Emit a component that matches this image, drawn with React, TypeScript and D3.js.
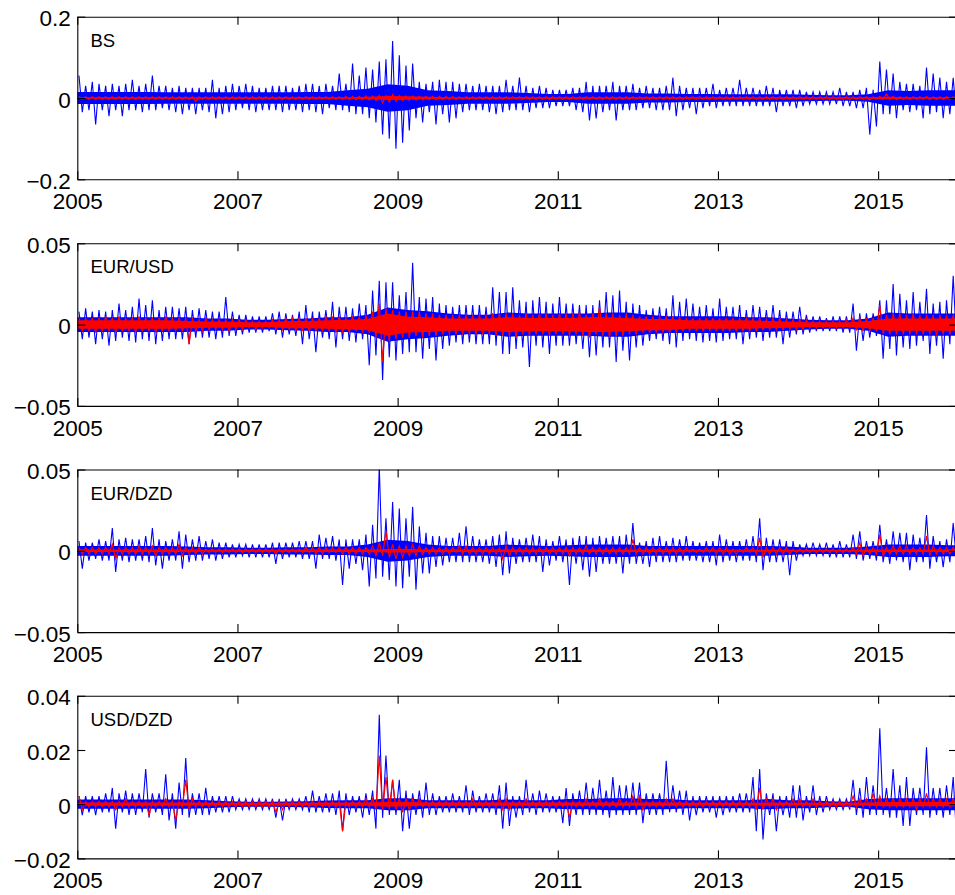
import React, { useEffect, useRef } from 'react';
import * as d3 from 'd3';

// Monthly extremes, one value per month, Jan 2005 .. Dec 2015.
// BS values are in units of 0.01, the three exchange rates in units of 0.001.

const bsBlueHi = [
  5.5, 3, 4, 3.5, 3, 3.5, 3, 3.5, 4.5, 3, 3.5, 5.5,
  3, 3, 2.5, 3, 2.5, 2.5, 2.5, 2.5, 4.5, 2.5, 3, 3.5,
  3, 3.5, 3, 2.5, 2.5, 3, 3, 3, 2.5, 3, 3.5, 3.5,
  3, 3.5, 3, 6, 3.5, 8.5, 5.5, 7.5, 7, 9, 9.5, 14,
  10.5, 8, 8.5, 4, 3.5, 4, 4.5, 4, 4, 3.5, 3.5, 3,
  3.5, 3, 3, 3, 4.5, 3, 5, 3, 2.5, 3, 2.5, 2,
  2, 2, 2.5, 2.5, 4, 3, 3, 3, 4, 3, 3, 3.5,
  2.5, 3, 2.5, 2.5, 3, 5, 3, 2.5, 2.5, 2.5, 2.5, 3.5,
  2, 2.5, 2.5, 4.5, 2.5, 2.5, 2, 3, 2.5, 2, 2, 2,
  2, 1.5, 1.5, 1.5, 1.5, 1.5, 2.5, 1.5, 1.5, 2, 2.5, 2,
  9, 7, 6, 4, 3.5, 3.5, 3, 7.5, 6, 5, 4, 5
];
const bsBlueLo = [
  -3.5, -3, -6.5, -3, -4.5, -3, -4.5, -3, -3, -3.5, -3, -3,
  -2.5, -3, -3.5, -4, -3, -4, -3, -3.5, -5, -4, -3.5, -3,
  -2.5, -3, -3.5, -3, -3, -3, -3.5, -3, -3, -3.5, -3, -3.5,
  -4, -2.5, -3, -3, -3.5, -4, -4, -5, -6, -9, -10, -12.5,
  -11, -8, -5, -6, -3.5, -6.5, -4, -6, -5, -3.5, -3, -3,
  -3, -3.5, -4, -3.5, -3, -3, -3, -3.5, -2.5, -2.5, -2.5, -2,
  -2, -2, -3, -3.5, -5.5, -5, -3.5, -3, -5.5, -3, -3, -3,
  -2.5, -2.5, -3, -3, -3, -4.5, -3, -2.5, -4, -2.5, -2, -2.5,
  -2, -2, -2, -2, -2, -2, -2, -2, -3.5, -2, -2, -2.5,
  -2, -1.5, -1.5, -1.5, -1.5, -1.5, -2, -2, -2.5, -2.5, -9, -7,
  -4, -4, -5, -3, -3.5, -3, -5, -4, -3.5, -5, -4, -5
];
const bsRedHi = [
  0.4, 0.3, 0.3, 0.3, 0.3, 0.3, 0.3, 0.3, 0.3, 0.3, 0.3, 0.3,
  0.3, 0.3, 0.3, 0.3, 0.3, 0.3, 0.3, 0.3, 0.3, 0.3, 0.3, 0.3,
  0.3, 0.3, 0.3, 0.3, 0.3, 0.3, 0.3, 0.3, 0.3, 0.3, 0.3, 0.3,
  0.3, 0.3, 0.3, 0.3, 0.4, 0.4, 0.4, 0.5, 0.5, 0.6, 0.6, 0.8,
  0.6, 0.5, 0.5, 0.4, 0.4, 0.4, 0.4, 0.4, 0.4, 0.3, 0.3, 0.3,
  0.3, 0.3, 0.3, 0.3, 0.3, 0.3, 0.3, 0.3, 0.3, 0.3, 0.3, 0.3,
  0.3, 0.3, 0.3, 0.3, 0.3, 0.3, 0.3, 0.3, 0.3, 0.3, 0.3, 0.3,
  0.3, 0.3, 0.3, 0.3, 0.3, 0.3, 0.3, 0.3, 0.3, 0.3, 0.3, 0.3,
  0.3, 0.3, 0.3, 0.3, 0.3, 0.3, 0.3, 0.3, 0.3, 0.3, 0.3, 0.3,
  0.3, 0.3, 0.3, 0.3, 0.3, 0.3, 0.3, 0.3, 0.3, 0.3, 0.3, 0.3,
  0.4, 1.0, 0.4, 0.3, 0.3, 0.3, 0.3, 0.4, 0.3, 0.3, 0.3, 0.3
];
const bsRedLo = [
  -0.3, -0.3, -0.3, -0.3, -0.3, -0.3, -0.3, -0.3, -0.3, -0.3, -0.3, -0.3,
  -0.3, -0.3, -0.3, -0.3, -0.3, -0.8, -0.3, -0.3, -0.3, -0.3, -0.3, -0.3,
  -0.3, -0.3, -0.3, -0.3, -0.3, -0.3, -0.3, -0.3, -0.3, -0.3, -0.3, -0.3,
  -0.3, -0.3, -0.3, -0.3, -0.4, -0.4, -0.4, -0.5, -0.6, -1.2, -1.0, -0.8,
  -0.6, -0.5, -0.5, -0.4, -0.4, -0.4, -0.4, -0.4, -0.4, -0.3, -0.3, -0.3,
  -0.3, -0.3, -0.3, -0.3, -0.3, -0.3, -0.3, -0.3, -0.3, -0.3, -0.3, -0.3,
  -0.3, -0.3, -0.3, -0.3, -0.3, -0.3, -0.3, -0.3, -0.3, -0.3, -0.3, -0.3,
  -0.3, -0.3, -0.3, -0.3, -0.3, -0.3, -0.3, -0.3, -0.3, -0.3, -0.3, -0.3,
  -0.3, -0.3, -0.3, -0.3, -0.3, -0.3, -0.3, -0.3, -0.3, -0.3, -0.3, -0.3,
  -0.3, -0.3, -0.3, -0.3, -0.3, -0.3, -0.3, -0.3, -0.3, -0.3, -0.5, -0.3,
  -0.4, -0.4, -0.4, -0.3, -0.3, -0.3, -0.3, -0.4, -0.3, -0.3, -0.3, -0.3
];

const eurUsdBlueHi = [
  8, 10, 8, 9, 8, 9, 13, 9, 11, 16, 12, 15,
  9, 11, 11, 10, 11, 9, 10, 9, 8, 8, 17, 8,
  6, 6, 5, 5, 5, 7, 8, 7, 6, 8, 12, 8,
  8, 9, 14, 11, 11, 10, 13, 12, 21, 27, 26, 26,
  18, 20, 38, 17, 16, 17, 13, 12, 11, 12, 12, 12,
  12, 11, 23, 20, 20, 23, 15, 14, 15, 17, 14, 13,
  17, 13, 13, 12, 12, 12, 15, 20, 18, 21, 14, 13,
  12, 9, 10, 11, 10, 18, 14, 16, 13, 11, 12, 10,
  16, 11, 11, 12, 9, 12, 11, 9, 12, 9, 8, 8,
  11, 6, 5, 5, 4, 5, 5, 5, 13, 7, 7, 7,
  15, 15, 25, 19, 15, 20, 14, 22, 13, 14, 15, 30
];
const eurUsdBlueLo = [
  -9, -8, -12, -9, -13, -10, -8, -10, -11, -9, -10, -12,
  -10, -9, -9, -9, -12, -8, -8, -8, -9, -8, -7, -7,
  -6, -5, -5, -5, -4, -6, -8, -6, -7, -12, -9, -17,
  -8, -9, -14, -9, -10, -11, -9, -25, -19, -34, -20, -22,
  -18, -17, -17, -21, -15, -22, -15, -13, -11, -12, -11, -12,
  -12, -12, -13, -18, -18, -15, -14, -26, -13, -14, -18, -13,
  -13, -13, -12, -15, -20, -19, -14, -14, -23, -16, -22, -14,
  -13, -10, -9, -10, -12, -14, -10, -9, -10, -11, -10, -11,
  -10, -9, -9, -12, -9, -8, -10, -8, -8, -12, -8, -6,
  -6, -5, -4, -4, -4, -4, -5, -5, -16, -10, -8, -7,
  -21, -15, -19, -14, -15, -13, -10, -18, -13, -21, -12, -12
];
const eurUsdRedHi = [
  4, 4, 4, 4, 5, 4, 5, 4, 4, 5, 4, 4,
  4, 5, 4, 4, 4, 4, 3, 4, 3, 3, 3, 3,
  3, 3, 2, 2, 2, 3, 3, 4, 4, 4, 4, 4,
  4, 5, 5, 5, 4, 5, 5, 6, 8, 13, 10, 9,
  8, 8, 8, 8, 7, 7, 6, 6, 6, 6, 6, 6,
  6, 6, 7, 7, 7, 7, 6, 7, 6, 7, 7, 6,
  7, 7, 7, 8, 6, 7, 11, 7, 7, 6, 7, 6,
  5, 5, 5, 5, 5, 5, 5, 4, 4, 4, 4, 4,
  4, 4, 4, 4, 4, 4, 4, 3, 4, 4, 3, 3,
  3, 3, 2, 2, 2, 2, 2, 3, 4, 4, 4, 4,
  12, 6, 7, 7, 6, 7, 6, 6, 6, 6, 6, 6
];
const eurUsdRedLo = [
  -4, -4, -5, -4, -4, -5, -4, -4, -5, -4, -4, -5,
  -4, -4, -4, -4, -12, -4, -4, -3, -3, -3, -4, -3,
  -3, -2, -3, -2, -2, -3, -3, -3, -4, -4, -4, -4,
  -4, -4, -5, -5, -5, -4, -5, -5, -8, -23, -10, -9,
  -8, -8, -7, -8, -7, -7, -6, -6, -6, -6, -6, -6,
  -6, -6, -7, -7, -7, -8, -6, -7, -6, -6, -7, -6,
  -6, -7, -6, -7, -8, -6, -7, -8, -7, -7, -6, -6,
  -5, -5, -5, -5, -5, -5, -4, -4, -4, -4, -4, -4,
  -4, -4, -4, -4, -4, -4, -3, -3, -3, -3, -3, -3,
  -3, -2, -2, -2, -2, -2, -2, -2, -3, -4, -4, -4,
  -6, -6, -6, -6, -6, -6, -6, -6, -7, -6, -6, -6
];

const eurDzdBlueHi = [
  6, 5, 5, 7, 6, 14, 7, 8, 7, 7, 9, 14,
  7, 6, 7, 12, 10, 7, 9, 6, 7, 5, 5, 4,
  4, 4, 4, 4, 4, 5, 5, 5, 5, 6, 6, 6,
  10, 8, 9, 7, 7, 7, 7, 10, 16, 52, 20, 30,
  26, 20, 27, 15, 11, 9, 9, 8, 8, 11, 15, 9,
  7, 7, 9, 10, 12, 8, 7, 8, 10, 9, 7, 6,
  9, 7, 8, 9, 9, 8, 9, 8, 9, 9, 10, 17,
  5, 6, 8, 9, 6, 8, 7, 9, 6, 5, 6, 6,
  10, 7, 6, 6, 7, 9, 20, 8, 7, 7, 6, 6,
  4, 4, 5, 4, 5, 4, 6, 4, 10, 12, 6, 6,
  16, 7, 12, 11, 11, 10, 8, 22, 9, 6, 7, 17
];
const eurDzdBlueLo = [
  -11, -6, -5, -6, -6, -13, -6, -7, -6, -6, -7, -9,
  -11, -6, -6, -11, -7, -6, -6, -5, -6, -5, -4, -4,
  -3, -4, -4, -4, -4, -8, -5, -4, -4, -5, -5, -11,
  -5, -5, -6, -21, -11, -8, -12, -22, -17, -16, -18, -22,
  -23, -16, -24, -14, -14, -10, -9, -7, -7, -7, -7, -7,
  -7, -8, -10, -15, -14, -8, -7, -7, -7, -13, -9, -6,
  -7, -21, -8, -12, -16, -13, -8, -8, -8, -14, -8, -8,
  -8, -10, -7, -7, -7, -7, -6, -6, -6, -7, -7, -9,
  -7, -6, -7, -6, -6, -7, -12, -7, -7, -7, -15, -6,
  -3, -3, -3, -3, -4, -4, -4, -4, -5, -6, -5, -6,
  -7, -8, -6, -7, -12, -7, -7, -11, -7, -10, -7, -7
];
const eurDzdRedHi = [
  2, 2, 2, 2, 2, 4, 2, 2, 2, 3, 2, 3,
  2, 2, 2, 4, 2, 2, 2, 1, 1, 1, 1, 1,
  1, 1, 1, 1, 1, 1, 1, 1, 1, 1, 2, 2,
  2, 2, 2, 2, 2, 2, 2, 2, 3, 5, 12, 4,
  3, 3, 4, 3, 2, 2, 2, 2, 2, 3, 3, 2,
  2, 2, 2, 2, 3, 2, 2, 2, 2, 2, 2, 2,
  2, 2, 2, 2, 3, 2, 2, 2, 2, 2, 2, 7,
  2, 2, 2, 2, 2, 2, 2, 2, 1, 1, 2, 2,
  2, 2, 1, 1, 2, 2, 8, 2, 2, 2, 2, 1,
  1, 1, 1, 1, 1, 1, 1, 1, 2, 5, 2, 2,
  10, 2, 3, 3, 3, 2, 2, 9, 3, 2, 2, 2
];
const eurDzdRedLo = [
  -2, -2, -2, -2, -2, -5, -2, -2, -2, -2, -2, -3,
  -2, -2, -2, -3, -2, -2, -2, -1, -1, -1, -1, -1,
  -1, -1, -1, -1, -1, -2, -1, -1, -1, -1, -1, -2,
  -2, -1, -1, -2, -2, -2, -2, -2, -3, -3, -4, -5,
  -4, -3, -3, -2, -2, -2, -2, -2, -1, -2, -2, -2,
  -2, -2, -2, -5, -3, -2, -2, -2, -2, -2, -2, -2,
  -2, -3, -2, -2, -2, -2, -2, -2, -2, -2, -2, -2,
  -2, -2, -2, -2, -2, -2, -2, -1, -1, -1, -1, -2,
  -2, -2, -2, -1, -1, -2, -4, -2, -2, -2, -2, -1,
  -1, -1, -1, -1, -1, -1, -1, -1, -2, -3, -2, -2,
  -3, -2, -2, -2, -2, -2, -2, -3, -2, -2, -2, -2
];

const usdDzdBlueHi = [
  3, 3, 3, 3, 4, 6, 4, 5, 4, 4, 13, 4,
  4, 11, 4, 8, 17, 4, 4, 6, 3, 3, 3, 3,
  2, 2, 2, 2, 2, 2, 2, 2, 2, 2, 3, 5,
  3, 4, 4, 5, 4, 3, 3, 4, 5, 33, 18, 9,
  9, 5, 4, 5, 8, 4, 3, 3, 4, 3, 7, 5,
  3, 4, 4, 7, 8, 3, 3, 9, 4, 5, 4, 3,
  3, 6, 4, 5, 8, 6, 9, 5, 10, 7, 7, 8,
  8, 4, 4, 4, 16, 7, 5, 5, 3, 3, 3, 3,
  3, 3, 3, 4, 4, 10, 13, 4, 4, 3, 3, 7,
  7, 3, 7, 3, 3, 2, 2, 2, 9, 6, 10, 7,
  28, 6, 13, 7, 10, 6, 6, 21, 6, 6, 7, 10
];
const usdDzdBlueLo = [
  -4, -3, -4, -3, -3, -9, -3, -4, -4, -3, -5, -3,
  -4, -6, -9, -4, -5, -4, -4, -4, -3, -3, -3, -2,
  -2, -2, -2, -2, -2, -5, -6, -2, -2, -2, -3, -3,
  -3, -3, -4, -10, -4, -3, -5, -4, -9, -5, -4, -4,
  -10, -9, -4, -5, -4, -4, -3, -3, -3, -3, -4, -3,
  -3, -3, -4, -9, -8, -5, -4, -3, -4, -3, -3, -3,
  -7, -8, -4, -4, -4, -4, -4, -5, -4, -4, -4, -4,
  -7, -4, -4, -4, -3, -3, -4, -6, -4, -3, -3, -5,
  -4, -3, -3, -3, -3, -10, -13, -4, -10, -4, -5, -5,
  -6, -3, -4, -3, -2, -2, -2, -2, -4, -5, -4, -4,
  -4, -5, -5, -8, -8, -4, -4, -5, -4, -5, -4, -12
];
const usdDzdRedHi = [
  3, 1, 1, 1, 1, 1, 1, 2, 1, 1, 1, 1,
  1, 2, 1, 1, 9, 2, 1, 1, 1, 1, 1, 1,
  1, 1, 1, 1, 1, 1, 1, 1, 1, 1, 1, 1,
  1, 1, 1, 1, 1, 1, 1, 2, 2, 18, 10, 9,
  2, 2, 2, 2, 1, 1, 1, 1, 1, 1, 1, 2,
  1, 1, 1, 2, 2, 1, 1, 2, 1, 1, 1, 1,
  1, 1, 1, 1, 2, 1, 2, 1, 1, 2, 1, 3,
  3, 1, 1, 1, 2, 2, 1, 1, 1, 1, 1, 1,
  1, 1, 1, 1, 1, 2, 6, 2, 2, 1, 1, 2,
  2, 1, 2, 1, 1, 1, 1, 1, 3, 2, 2, 4,
  3, 2, 2, 2, 2, 2, 2, 4, 2, 2, 2, 2
];
const usdDzdRedLo = [
  -2, -1, -1, -1, -1, -2, -1, -1, -1, -1, -4, -1,
  -1, -1, -6, -1, -2, -1, -1, -1, -1, -1, -1, -1,
  -1, -1, -1, -1, -1, -3, -2, -1, -1, -1, -1, -1,
  -1, -1, -1, -10, -1, -1, -1, -1, -2, -2, -2, -2,
  -3, -2, -1, -1, -1, -1, -1, -1, -1, -1, -1, -1,
  -1, -1, -1, -2, -2, -1, -1, -1, -1, -1, -1, -1,
  -1, -5, -1, -1, -1, -1, -1, -1, -1, -1, -1, -1,
  -2, -1, -1, -1, -1, -1, -1, -1, -1, -1, -1, -1,
  -1, -1, -1, -1, -1, -2, -2, -1, -2, -1, -1, -1,
  -1, -1, -1, -1, -1, -1, -1, -1, -1, -1, -1, -1,
  -1, -1, -1, -1, -1, -2, -1, -1, -1, -1, -1, -1
];

// Half-width of the dense, solid part of each band, one value per quarter (same units).
const bsBlueCore = [
  1.5, 1.5, 1.5, 1.5, 1.4, 1.4, 1.4, 1.4, 1.4, 1.4, 1.4, 1.5,
  1.5, 1.9, 2.3, 3.4, 3, 1.9, 1.7, 1.4, 1.4, 1.4, 1.2, 1,
  1, 1.4, 1.4, 1.4, 1.1, 1.1, 1, 1, 0.9, 0.9, 0.9, 0.9,
  0.8, 0.7, 0.7, 0.9, 1.9, 1.7, 1.9, 1.9
];
const bsRedCore = [
  0.2, 0.2, 0.2, 0.2, 0.2, 0.2, 0.2, 0.2, 0.2, 0.2, 0.2, 0.2,
  0.2, 0.2, 0.3, 0.5, 0.4, 0.3, 0.2, 0.2, 0.2, 0.2, 0.2, 0.2,
  0.2, 0.2, 0.2, 0.2, 0.2, 0.2, 0.2, 0.2, 0.2, 0.2, 0.2, 0.2,
  0.2, 0.2, 0.2, 0.2, 0.3, 0.2, 0.2, 0.2
];
const eurUsdBlueCore = [
  4.5, 4.5, 4.5, 4.5, 4.5, 4.5, 3.8, 3.8, 3, 3, 3.4, 3.8,
  4.5, 4.5, 6, 10.5, 9, 8.2, 6.8, 6, 6, 7.5, 6.8, 6.8,
  6.8, 6.8, 7.5, 7.5, 6, 5.2, 5.2, 5.2, 5.2, 4.5, 4.5, 3.8,
  3, 2.6, 2.6, 3.8, 7.5, 6.8, 6.8, 6.8
];
const eurUsdRedCore = [
  2.6, 2.6, 2.6, 2.6, 2.6, 2.2, 1.9, 1.9, 1.5, 1.5, 2.2, 2.2,
  2.6, 3, 3.4, 6.8, 4.9, 4.5, 3.8, 3.8, 3.8, 4.5, 4.1, 4.1,
  4.1, 4.5, 4.5, 4.1, 3.4, 3.4, 2.6, 2.6, 2.6, 2.6, 2.2, 1.9,
  1.5, 1.4, 1.5, 2.2, 3.8, 3.8, 3.8, 3.8
];
const eurDzdBlueCore = [
  3, 3, 3, 3, 3, 2.6, 2.2, 2.2, 1.9, 1.9, 2.2, 2.2,
  2.6, 2.6, 3.8, 6.8, 6, 3.8, 3, 3, 3, 3.8, 3.4, 3,
  3.4, 3.8, 3.8, 3.8, 3, 3, 3, 3, 3, 3, 3, 2.6,
  1.9, 1.9, 1.9, 2.6, 3.8, 3.8, 3.8, 3.4
];
const eurDzdRedCore = [
  0.8, 0.8, 0.8, 0.8, 0.8, 0.8, 0.6, 0.6, 0.6, 0.6, 0.6, 0.8,
  0.8, 0.8, 0.8, 1.1, 1.1, 0.8, 0.8, 0.8, 0.8, 0.8, 0.8, 0.8,
  0.8, 0.8, 0.8, 0.8, 0.8, 0.8, 0.6, 0.6, 0.6, 0.8, 0.6, 0.6,
  0.5, 0.5, 0.5, 0.8, 0.8, 0.8, 0.8, 0.8
];
const usdDzdBlueCore = [
  1.7, 1.7, 1.7, 1.7, 1.7, 1.7, 1.5, 1.1, 0.9, 0.9, 1, 1.1,
  1.4, 1.5, 1.5, 2.2, 2.2, 1.5, 1.5, 1.5, 1.5, 1.7, 1.5, 1.5,
  1.9, 1.9, 2.2, 2.2, 1.9, 1.9, 1.5, 1.5, 1.5, 1.5, 1.9, 1.5,
  1.5, 1.1, 0.9, 1.9, 2.2, 2.2, 2.2, 2.2
];
const usdDzdRedCore = [
  0.6, 0.6, 0.6, 0.6, 0.6, 0.6, 0.5, 0.5, 0.5, 0.5, 0.5, 0.5,
  0.6, 0.6, 0.6, 0.9, 0.8, 0.6, 0.6, 0.6, 0.6, 0.6, 0.6, 0.6,
  0.6, 0.6, 0.6, 0.6, 0.6, 0.6, 0.5, 0.5, 0.5, 0.5, 0.6, 0.5,
  0.5, 0.5, 0.5, 0.6, 0.8, 0.8, 0.8, 0.8
];

const xTicks = [2005, 2007, 2009, 2011, 2013, 2015];

const panels = [
  {
    label: 'BS', unit: 0.01, domain: [-0.2, 0.2],
    ticks: [-0.2, 0, 0.2], tickLabels: ['\u22120.2', '0', '0.2'],
    blueHi: bsBlueHi, blueLo: bsBlueLo, redHi: bsRedHi, redLo: bsRedLo,
    blueCore: bsBlueCore, redCore: bsRedCore
  },
  {
    label: 'EUR/USD', unit: 0.001, domain: [-0.05, 0.05],
    ticks: [-0.05, 0, 0.05], tickLabels: ['\u22120.05', '0', '0.05'],
    blueHi: eurUsdBlueHi, blueLo: eurUsdBlueLo, redHi: eurUsdRedHi, redLo: eurUsdRedLo,
    blueCore: eurUsdBlueCore, redCore: eurUsdRedCore
  },
  {
    label: 'EUR/DZD', unit: 0.001, domain: [-0.05, 0.05],
    ticks: [-0.05, 0, 0.05], tickLabels: ['\u22120.05', '0', '0.05'],
    blueHi: eurDzdBlueHi, blueLo: eurDzdBlueLo, redHi: eurDzdRedHi, redLo: eurDzdRedLo,
    blueCore: eurDzdBlueCore, redCore: eurDzdRedCore
  },
  {
    label: 'USD/DZD', unit: 0.001, domain: [-0.02, 0.04],
    ticks: [-0.02, 0, 0.02, 0.04], tickLabels: ['\u22120.02', '0', '0.02', '0.04'],
    blueHi: usdDzdBlueHi, blueLo: usdDzdBlueLo, redHi: usdDzdRedHi, redLo: usdDzdRedLo,
    blueCore: usdDzdBlueCore, redCore: usdDzdRedCore
  }
];

const FONT = '"Liberation Sans", Arial, Helvetica, sans-serif';

const App = () => {
  const container = useRef(null);

  useEffect(() => {
    createChart();
  }, []);

  const createChart = () => {
    const width = 955;
    const height = 895;
    const left = 77.3;
    const right = 957;
    const panelTops = [16.7, 243.3, 469.5, 695.8];
    const panelHeight = 162.6;
    const tickLen = 8;

    const svg = d3
      .select(container.current)
      .selectAll('svg')
      .data([0])
      .join('svg')
      .attr('width', width)
      .attr('height', height)
      .style('position', 'absolute')
      .style('left', 0)
      .style('top', 0)
      .style('background', '#fff');

    svg.selectAll('*').remove();

    const xScale = d3
      .scaleLinear()
      .domain([2005, 2015.985])
      .range([left, right]);

    panels.forEach((p, k) => {
      const top = panelTops[k];
      const bottom = top + panelHeight;

      const yScale = d3
        .scaleLinear()
        .domain(p.domain)
        .range([bottom, top]);

      const g = svg.append('g').attr('class', 'panel');

      g.append('clipPath')
        .attr('id', `clip${k}`)
        .append('rect')
        .attr('x', left)
        .attr('y', top)
        .attr('width', right - left)
        .attr('height', panelHeight);

      const plot = g.append('g').attr('clip-path', `url(#clip${k})`);

      // each month gives its high then its low, so the line sweeps the band
      const toPoints = (hi, lo) =>
        hi.flatMap((h, i) => [
          [2005 + (i + 0.25) / 12, h * p.unit],
          [2005 + (i + 0.75) / 12, lo[i] * p.unit]
        ]);

      // quarterly half-widths of the solid part, held out to both ends of the axis
      const toCore = core => [
        [2005, core[0] * p.unit],
        ...core.map((c, q) => [2005 + (q + 0.5) / 4, c * p.unit]),
        [2016, core[core.length - 1] * p.unit]
      ];

      const line = d3
        .line()
        .x(d => xScale(d[0]))
        .y(d => yScale(d[1]));

      const band = d3
        .area()
        .x(d => xScale(d[0]))
        .y0(d => yScale(-d[1]))
        .y1(d => yScale(d[1]));

      plot.append('path')
        .attr('d', band(toCore(p.blueCore)))
        .attr('fill', '#0000ff');

      plot.append('path')
        .attr('d', line(toPoints(p.blueHi, p.blueLo)))
        .attr('fill', 'none')
        .attr('stroke', '#0000ff')
        .attr('stroke-width', 1.1);

      plot.append('path')
        .attr('d', band(toCore(p.redCore)))
        .attr('fill', '#ff0000');

      plot.append('path')
        .attr('d', line(toPoints(p.redHi, p.redLo)))
        .attr('fill', 'none')
        .attr('stroke', '#ff0000')
        .attr('stroke-width', 1.2);

      const styleAxis = sel => {
        sel.attr('font-size', 22.5).attr('font-family', FONT).attr('color', '#000');
        sel.selectAll('line, path').attr('stroke-width', 1.1);
      };

      g.append('g')
        .attr('transform', `translate(0,${bottom})`)
        .call(
          d3.axisBottom(xScale)
            .tickValues(xTicks)
            .tickFormat(d3.format('d'))
            .tickSizeInner(-tickLen)
            .tickSizeOuter(0)
            .tickPadding(14)
        )
        .call(styleAxis);

      g.append('g')
        .attr('transform', `translate(0,${top})`)
        .call(
          d3.axisTop(xScale)
            .tickValues(xTicks)
            .tickFormat(() => '')
            .tickSizeInner(-tickLen)
            .tickSizeOuter(0)
        )
        .call(styleAxis);

      g.append('g')
        .attr('transform', `translate(${left},0)`)
        .call(
          d3.axisLeft(yScale)
            .tickValues(p.ticks)
            .tickFormat((d, i) => p.tickLabels[i])
            .tickSizeInner(-tickLen)
            .tickSizeOuter(0)
            .tickPadding(6.5)
        )
        .call(styleAxis)
        .call(a => a.selectAll('text').attr('dy', '0.4em'));

      g.append('g')
        .attr('transform', `translate(${right},0)`)
        .call(
          d3.axisRight(yScale)
            .tickValues(p.ticks)
            .tickFormat(() => '')
            .tickSizeInner(-tickLen)
            .tickSizeOuter(0)
        )
        .call(styleAxis);

      g.append('text')
        .attr('x', 90.5)
        .attr('y', top + 30)
        .attr('font-size', 18.5)
        .attr('font-family', FONT)
        .attr('fill', '#000')
        .text(p.label);
    });
  };

  return <div className="chart-container" ref={container}></div>;
};

export default App;
